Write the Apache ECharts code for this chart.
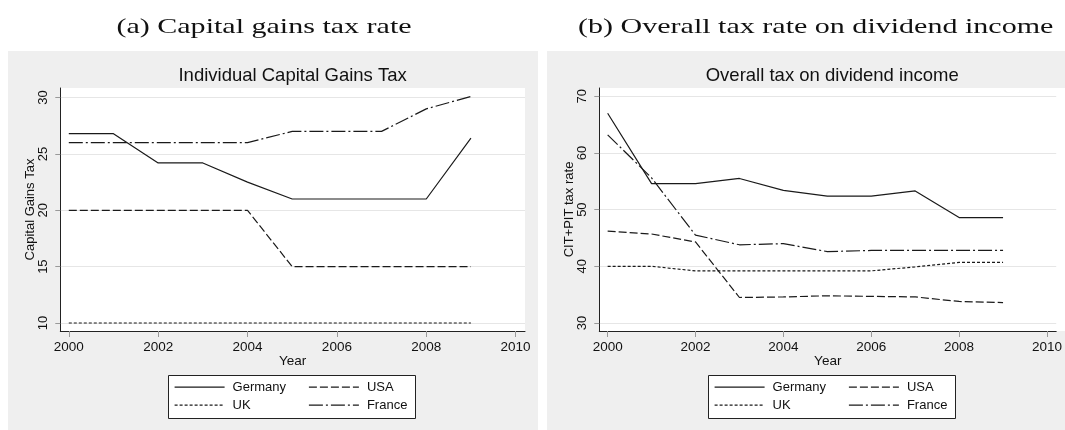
<!DOCTYPE html>
<html><head><meta charset="utf-8">
<script src="https://cdn.jsdelivr.net/npm/echarts@6/dist/echarts.min.js"></script>
<style>html,body{margin:0;padding:0;background:#fff}#c{width:1065px;height:430px}</style>
</head><body><div id="c"></div>
<script>
// ---- data ----
const years = [2000, 2001, 2002, 2003, 2004, 2005, 2006, 2007, 2008, 2009];
const seriesNames = ['Germany', 'USA', 'UK', 'France'];
// (a) Individual capital gains tax
const cgGermany = [26.8, 26.8, 24.2, 24.2, 22.5, 21.0, 21.0, 21.0, 21.0, 26.4];
const cgUSA     = [20, 20, 20, 20, 20, 15, 15, 15, 15, 15];
const cgUK      = [10, 10, 10, 10, 10, 10, 10, 10, 10, 10];
const cgFrance  = [26.0, 26.0, 26.0, 26.0, 26.0, 27.0, 27.0, 27.0, 29.0, 30.1];
// (b) Overall tax on dividend income (CIT+PIT)
const divGermany = [67.0, 54.6, 54.6, 55.5, 53.4, 52.4, 52.4, 53.3, 48.6, 48.6];
const divUSA     = [46.2, 45.7, 44.3, 34.5, 34.6, 34.8, 34.7, 34.6, 33.8, 33.6];
const divUK      = [40.0, 40.0, 39.2, 39.2, 39.2, 39.2, 39.2, 39.9, 40.7, 40.7];
const divFrance  = [63.2, 55.6, 45.5, 43.8, 44.0, 42.6, 42.8, 42.8, 42.8, 42.8];
// tick labels
const xTicks = [2000, 2002, 2004, 2006, 2008, 2010];
const cgTicks = [10, 15, 20, 25, 30];
const divTicks = [30, 40, 50, 60, 70];

// ---- styling ----
const INK = '#1a1a1a';
const dashes = { Germany: 'solid', USA: [8, 3], UK: [3, 2], France: [14, 3, 2, 3] };
const SANS = 'Liberation Sans';

function mkSeries(name, vals, idx) {
  return {
    type: 'line', name: name, xAxisIndex: idx, yAxisIndex: idx,
    data: years.map((y, i) => [y, vals[i]]),
    symbol: 'none', showSymbol: false, silent: true, animation: false, z: 3,
    lineStyle: { color: INK, width: 1.2, type: dashes[name] },
    itemStyle: { color: INK }
  };
}

function xAxisOpt(idx) {
  return {
    gridIndex: idx, type: 'value', min: 1999.81, max: 2010.21,
    name: 'Year', nameLocation: 'middle', nameGap: 23, nameMoveOverlap: false,
    nameTextStyle: { fontSize: 13.5, color: '#111', fontFamily: SANS },
    axisLine: { show: true, onZero: false, lineStyle: { color: '#222', width: 1 } },
    axisTick: { show: true, length: 6, customValues: xTicks, lineStyle: { color: '#999' } },
    axisLabel: { customValues: xTicks, margin: 9, fontSize: 13.5, color: '#111', fontFamily: SANS,
                 formatter: v => String(v) },
    splitLine: { show: false }
  };
}
function yAxisOpt(idx, min, max, ticks, title) {
  return {
    gridIndex: idx, type: 'value', min: min, max: max,
    name: title, nameLocation: 'middle', nameGap: 23, nameMoveOverlap: false,
    nameTextStyle: { fontSize: 13, color: '#111', fontFamily: SANS },
    axisLine: { show: true, onZero: false, lineStyle: { color: '#222', width: 1 } },
    axisTick: { show: true, length: 5, customValues: ticks, lineStyle: { color: '#999' } },
    axisLabel: { customValues: ticks, rotate: 90, margin: 10, fontSize: 13, color: '#111', fontFamily: SANS,
                 formatter: v => String(v) },
    splitLine: { show: true, lineStyle: { color: '#e6e6e6', width: 1 } }
  };
}
// one legend column (two stacked entries)
function legendCol(left, names) {
  return {
    left: left, top: 380.7, orient: 'vertical',
    itemWidth: 50, itemHeight: 14, itemGap: 5, padding: 0,
    selectedMode: false, z: 6,
    itemStyle: { color: 'rgba(0,0,0,0)', borderColor: 'rgba(0,0,0,0)', borderWidth: 0, opacity: 0 },
    lineStyle: { width: 1.2 },
    textStyle: { fontSize: 13, color: '#111', fontFamily: SANS, padding: [0, 0, 0, 3] },
    data: names
  };
}
function txt(x, y, text, font, scaleX) {
  return { type: 'text', x: x, y: y, scaleX: scaleX || 1, silent: true, z: 5,
    style: { text: text, font: font, fill: '#111', align: 'center', verticalAlign: 'middle',
             textAlign: 'center', textVerticalAlign: 'middle' } };
}
function legendBox(x) {
  return { type: 'rect', z: 1, silent: true, shape: { x: x, y: 375.5, width: 247, height: 43 },
           style: { fill: '#fff', stroke: '#222', lineWidth: 1 } };
}

const option = {
  animation: false,
  backgroundColor: '#fff',
  grid: [
    { left: 60.3, top: 88, width: 464.7, height: 243, containLabel: false },
    { left: 599.3, top: 88, width: 466, height: 243, containLabel: false }
  ],
  xAxis: [xAxisOpt(0), xAxisOpt(1)],
  yAxis: [
    yAxisOpt(0, 9.29, 30.85, cgTicks, 'Capital Gains Tax'),
    yAxisOpt(1, 28.59, 71.46, divTicks, 'CIT+PIT tax rate')
  ],
  legend: [
    legendCol(174, [seriesNames[0], seriesNames[2]]),
    legendCol(308.3, [seriesNames[1], seriesNames[3]]),
    legendCol(714, [seriesNames[0], seriesNames[2]]),
    legendCol(848.3, [seriesNames[1], seriesNames[3]])
  ],
  graphic: { elements: [
    { type: 'rect', z: -2, silent: true, shape: { x: 8, y: 51, width: 530, height: 379 }, style: { fill: '#efefef' } },
    { type: 'rect', z: -2, silent: true, shape: { x: 547, y: 51, width: 518, height: 379 }, style: { fill: '#efefef' } },
    { type: 'rect', z: -1, silent: true, shape: { x: 60.3, y: 88, width: 464.7, height: 243 }, style: { fill: '#fff' } },
    { type: 'rect', z: -1, silent: true, shape: { x: 599.3, y: 88, width: 466, height: 243 }, style: { fill: '#fff' } },
    legendBox(168.5), legendBox(708.5),
    txt(264, 27, '(a) Capital gains tax rate', '21px "Liberation Serif"', 1.43),
    txt(815.7, 27, '(b) Overall tax rate on dividend income', '21px "Liberation Serif"', 1.43),
    txt(292.6, 75.7, 'Individual Capital Gains Tax', '18.5px "Liberation Sans"', 1),
    txt(832.2, 75.7, 'Overall tax on dividend income', '18.5px "Liberation Sans"', 1)
  ]},
  series: [
    mkSeries('Germany', cgGermany, 0), mkSeries('USA', cgUSA, 0),
    mkSeries('UK', cgUK, 0), mkSeries('France', cgFrance, 0),
    mkSeries('Germany', divGermany, 1), mkSeries('USA', divUSA, 1),
    mkSeries('UK', divUK, 1), mkSeries('France', divFrance, 1)
  ]
};
const chart = echarts.init(document.getElementById('c'), null, { renderer: 'canvas' });
chart.setOption(option);
</script></body></html>
